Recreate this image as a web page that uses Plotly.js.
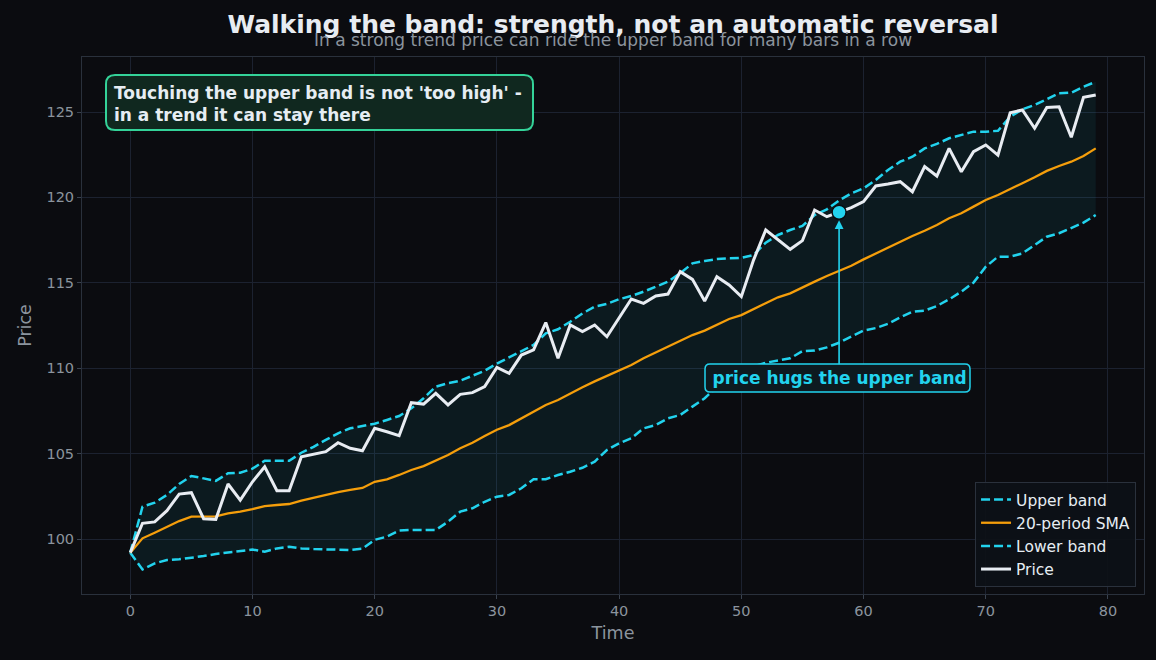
<!DOCTYPE html>
<html>
<head>
<meta charset="utf-8">
<script src="https://cdn.plot.ly/plotly-3.0.1.min.js"></script>
<style>
  html, body { margin: 0; padding: 0; background: #0b0c10; }
  #chart { width: 1156px; height: 660px; }
</style>
</head>
<body>
<div id="chart"></div>
<script>
// Bar index 0..79
const time = Array.from({length: 80}, (_, i) => i);

const price = [
  99.2, 100.92, 101.0, 101.66, 102.63, 102.71, 101.19, 101.15, 103.22, 102.28,
  103.35, 104.23, 102.83, 102.83, 104.82, 104.98, 105.11, 105.64, 105.31, 105.17,
  106.48, 106.28, 106.05, 107.98, 107.9, 108.53, 107.85, 108.47, 108.57, 108.92,
  110.05, 109.7, 110.77, 111.07, 112.67, 110.58, 112.53, 112.14, 112.53, 111.84,
  112.97, 114.05, 113.8, 114.23, 114.34, 115.65, 115.2, 113.93, 115.36, 114.87,
  114.19, 116.33, 118.09, 117.5, 116.96, 117.47, 119.26, 118.87, 119.13, 119.4,
  119.75, 120.67, 120.78, 120.92, 120.33, 121.8, 121.25, 122.87, 121.5, 122.68,
  123.07, 122.48, 124.96, 125.12, 124.05, 125.27, 125.31, 123.52, 125.86, 126.0
];

const sma20 = [
  99.2, 100.04, 100.37, 100.72, 101.05, 101.31, 101.31, 101.33, 101.5, 101.6,
  101.75, 101.93, 101.99, 102.05, 102.24, 102.42, 102.6, 102.75, 102.87, 102.99,
  103.35, 103.49, 103.75, 104.04, 104.27, 104.58, 104.92, 105.31, 105.64, 106.03,
  106.4, 106.67, 107.07, 107.45, 107.85, 108.14, 108.53, 108.88, 109.23, 109.56,
  109.87, 110.19, 110.58, 110.91, 111.26, 111.61, 111.94, 112.2, 112.53, 112.88,
  113.11, 113.45, 113.8, 114.15, 114.38, 114.74, 115.07, 115.4, 115.68, 116.0,
  116.37, 116.72, 117.06, 117.41, 117.74, 118.05, 118.38, 118.78, 119.07, 119.46,
  119.85, 120.14, 120.47, 120.83, 121.18, 121.55, 121.84, 122.09, 122.42, 122.87
];

const upperBand = [
  99.2, 101.89, 102.13, 102.58, 103.22, 103.69, 103.55, 103.4, 103.85, 103.88,
  104.12, 104.58, 104.58, 104.58, 105.05, 105.4, 105.8, 106.19, 106.48, 106.62,
  106.75, 106.97, 107.2, 107.65, 108.24, 108.92, 109.12, 109.27, 109.54, 109.85,
  110.27, 110.64, 110.97, 111.36, 112.04, 112.28, 112.72, 113.21, 113.6, 113.76,
  114.04, 114.23, 114.48, 114.77, 115.07, 115.56, 116.14, 116.28, 116.39, 116.43,
  116.46, 116.63, 117.35, 117.8, 118.09, 118.33, 118.97, 119.3, 119.82, 120.24,
  120.53, 121.02, 121.6, 122.09, 122.38, 122.87, 123.13, 123.46, 123.65, 123.85,
  123.85, 123.9, 124.72, 125.16, 125.41, 125.74, 126.1, 126.13, 126.48, 126.77
];

const lowerBand = [
  99.2, 98.22, 98.57, 98.77, 98.81, 98.89, 99.0, 99.12, 99.2, 99.32,
  99.38, 99.26, 99.45, 99.55, 99.45, 99.41, 99.4, 99.36, 99.36, 99.43,
  99.95, 100.14, 100.49, 100.53, 100.53, 100.53, 101.01, 101.6, 101.8, 102.18,
  102.48, 102.58, 102.97, 103.5, 103.5, 103.75, 103.94, 104.17, 104.53, 105.21,
  105.6, 105.9, 106.48, 106.67, 107.07, 107.26, 107.75, 108.24, 108.9, 109.4,
  109.8, 110.1, 110.32, 110.44, 110.58, 111.0, 111.03, 111.22, 111.49, 111.85,
  112.2, 112.35, 112.6, 112.98, 113.31, 113.37, 113.64, 114.03, 114.48, 115.01,
  115.94, 116.53, 116.53, 116.72, 117.21, 117.7, 117.9, 118.19, 118.52, 118.97
];

// Bar where the callout points at price riding the upper band
const hugIndex = 58;

const CYAN = '#22d3ee';
const ORANGE = '#f59e0b';
const WHITE = '#e8ecf2';
const BG = '#0b0c10';
const GRID = '#1c2230';
const MUTED = '#8b949e';
const FONT = 'DejaVu Sans, sans-serif';
const DASH = '9px,4px';

// Plot area in pixels, used to place the rounded callout boxes in paper units
const W = 1156, H = 660;
const M = {l: 82, r: 12, t: 57, b: 66};
const PW = W - M.l - M.r, PH = H - M.t - M.b;
const px = v => (v - M.l) / PW;
const py = v => (H - M.b - v) / PH;

function roundedBox(x0, y0, x1, y1, r) {
  const rx = r / PW, ry = r / PH;
  const L = px(x0), R = px(x1), T = py(y0), B = py(y1);
  return `M ${L + rx},${T} L ${R - rx},${T} Q ${R},${T} ${R},${T - ry} ` +
         `L ${R},${B + ry} Q ${R},${B} ${R - rx},${B} L ${L + rx},${B} ` +
         `Q ${L},${B} ${L},${B + ry} L ${L},${T - ry} Q ${L},${T} ${L + rx},${T} Z`;
}

const traces = [
  // shaded band area
  { x: time, y: upperBand, mode: 'lines', line: {width: 0, color: 'rgba(0,0,0,0)'},
    showlegend: false, hoverinfo: 'skip' },
  { x: time, y: lowerBand, mode: 'lines', line: {width: 0, color: 'rgba(0,0,0,0)'},
    fill: 'tonexty', fillcolor: 'rgba(34,211,238,0.07)', showlegend: false, hoverinfo: 'skip' },
  { x: time, y: upperBand, mode: 'lines', name: 'Upper band', legendrank: 1,
    line: {color: CYAN, width: 2.5, dash: DASH} },
  { x: time, y: lowerBand, mode: 'lines', name: 'Lower band', legendrank: 3,
    line: {color: CYAN, width: 2.5, dash: DASH} },
  { x: time, y: sma20, mode: 'lines', name: '20-period SMA', legendrank: 2,
    line: {color: ORANGE, width: 2.3} },
  { x: time, y: price, mode: 'lines', name: 'Price', legendrank: 4,
    line: {color: WHITE, width: 3} },
  { x: [time[hugIndex]], y: [price[hugIndex]], mode: 'markers', showlegend: false,
    marker: {color: CYAN, size: 14, line: {color: BG, width: 1.5}}, hoverinfo: 'skip' }
];

const layout = {
  width: W, height: H,
  paper_bgcolor: BG, plot_bgcolor: BG,
  margin: M,
  font: {family: FONT, color: MUTED, size: 14},
  showlegend: true,
  title: {
    text: '<b>Walking the band: strength, not an automatic reversal</b>',
    font: {family: FONT, size: 25, color: '#e8ecf2'},
    x: 0.5, xref: 'paper', y: 1 - 24 / H, yref: 'container', yanchor: 'middle'
  },
  xaxis: {
    range: [-3.95, 82.95], tickvals: [0, 10, 20, 30, 40, 50, 60, 70, 80],
    showgrid: true, gridcolor: GRID, gridwidth: 1, zeroline: false,
    showline: true, linecolor: '#2a313c', linewidth: 1, mirror: true,
    ticks: 'outside', ticklen: 4, tickcolor: '#3a4350',
    tickfont: {size: 14.5, color: MUTED},
    title: {text: 'Time', font: {size: 17.5, color: MUTED}, standoff: 8}
  },
  yaxis: {
    range: [96.78, 128.22], tickvals: [100, 105, 110, 115, 120, 125],
    showgrid: true, gridcolor: GRID, gridwidth: 1, zeroline: false,
    showline: true, linecolor: '#2a313c', linewidth: 1, mirror: true,
    ticks: 'outside', ticklen: 4, tickcolor: '#3a4350',
    tickfont: {size: 14.5, color: MUTED},
    title: {text: 'Price', font: {size: 17.5, color: MUTED}, standoff: 10}
  },
  legend: {
    x: 0.9925, xanchor: 'right', y: 0.013, yanchor: 'bottom',
    traceorder: 'normal',
    bgcolor: 'rgba(13,17,23,0.92)', bordercolor: '#2a313c', borderwidth: 1,
    font: {size: 15.5, color: '#e6edf3'}, tracegroupgap: 2
  },
  shapes: [
    { type: 'path', xref: 'paper', yref: 'paper', layer: 'above',
      path: roundedBox(106, 75, 533, 130, 9),
      fillcolor: '#10281f', line: {color: '#34d399', width: 2} },
    { type: 'path', xref: 'paper', yref: 'paper', layer: 'above',
      path: roundedBox(705, 364, 970, 392, 5),
      fillcolor: '#0d1a20', line: {color: CYAN, width: 1.5} }
  ],
  annotations: [
    {
      text: 'In a strong trend price can ride the upper band for many bars in a row',
      xref: 'paper', yref: 'paper', x: 0.5, y: 1 + (M.t - 40) / PH,
      xanchor: 'center', yanchor: 'middle', showarrow: false,
      font: {family: FONT, size: 17, color: MUTED}
    },
    {
      text: "<b>Touching the upper band is not 'too high' -<br>in a trend it can stay there</b>",
      xref: 'paper', yref: 'paper', x: px(108), y: py(77),
      xanchor: 'left', yanchor: 'top', align: 'left', showarrow: false,
      font: {family: FONT, size: 17, color: '#e6edf3'},
      borderpad: 5
    },
    {
      text: '<b>price hugs the upper band</b>',
      x: time[hugIndex], y: price[hugIndex], xref: 'x', yref: 'y',
      ax: time[hugIndex], ay: 109.43, axref: 'x', ayref: 'y',
      showarrow: true, arrowhead: 2, arrowsize: 1.1, arrowwidth: 1.6, arrowcolor: CYAN,
      standoff: 8,
      font: {family: FONT, size: 17, color: CYAN},
      borderwidth: 1.5, borderpad: 3
    }
  ]
};

Plotly.newPlot('chart', traces, layout, {displayModeBar: false, responsive: false});
</script>
</body>
</html>
